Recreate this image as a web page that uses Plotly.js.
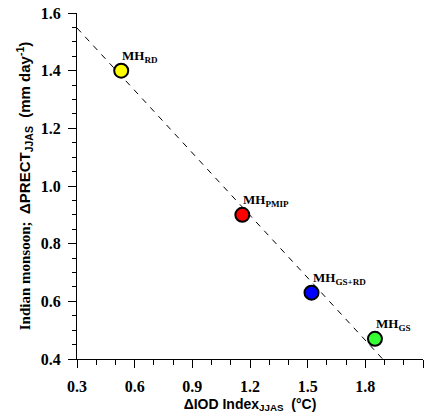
<!DOCTYPE html>
<html>
<head>
<meta charset="utf-8">
<script src="https://cdn.plot.ly/plotly-3.0.1.min.js"></script>
<style>html,body{margin:0;padding:0;background:#fff;}#chart{width:431px;height:419px;}</style>
</head>
<body>
<div id="chart"></div>
<script>
const names = ["MH<sub>RD</sub>", "MH<sub>PMIP</sub>", "MH<sub>GS+RD</sub>", "MH<sub>GS</sub>"];
const iodIndex = [0.53, 1.16, 1.52, 1.85];
const prect = [1.40, 0.90, 0.63, 0.47];
const colors = ["#ffff00", "#ff0000", "#0000ff", "#33ff33"];
const fitX = [0.3, 1.89];
const fitY = [1.548, 0.4];
const xTicks = [0.3, 0.6, 0.9, 1.2, 1.5, 1.8, 2.1];
const yTicks = [0.4, 0.6, 0.8, 1.0, 1.2, 1.4, 1.6];

const tickFont = {family: "Liberation Serif, Times New Roman, serif", size: 16, color: "#000", weight: "bold"};

const traces = [
  {x: fitX, y: fitY, mode: "lines", line: {color: "#000", width: 1, dash: "6px,6px"}, hoverinfo: "skip", showlegend: false, cliponaxis: false},
  {x: iodIndex, y: prect, mode: "markers", marker: {size: 14, color: colors, line: {color: "#000", width: 2}}, showlegend: false, cliponaxis: false}
];

const annotations = names.map((n, i) => ({
  x: iodIndex[i], y: prect[i], xref: "x", yref: "y", text: n, showarrow: false,
  xanchor: "left", yanchor: "middle", xshift: -1, yshift: 14,
  font: {family: "Liberation Serif, Times New Roman, serif", size: 13, color: "#000", weight: "bold"}
}));

const layout = {
  width: 431, height: 419,
  margin: {l: 77, r: 8, t: 13, b: 60},
  paper_bgcolor: "#fff", plot_bgcolor: "#fff",
  xaxis: {
    range: [0.3, 2.1], tickvals: xTicks, ticktext: xTicks.map(v => v.toFixed(1)),
    showgrid: false, zeroline: false, showline: true, linecolor: "#000", linewidth: 1,
    ticks: "outside", ticklen: 8, tickcolor: "#000", tickwidth: 1, ticklabelstandoff: 5,
    minor: {dtick: 0.1, tick0: 0.3, ticks: "outside", ticklen: 5, tickcolor: "#000", showgrid: false},
    tickfont: tickFont, fixedrange: true,
    title: {text: "ΔIOD Index<sub>JJAS</sub>  (°C)", font: {family: "Liberation Sans, Arial, sans-serif", size: 14, color: "#000", weight: "bold"}, standoff: 4}
  },
  yaxis: {
    range: [0.4, 1.6], tickvals: yTicks, ticktext: yTicks.map(v => v.toFixed(1)),
    showgrid: false, zeroline: false, showline: true, linecolor: "#000", linewidth: 1,
    ticks: "outside", ticklen: 8, tickcolor: "#000", tickwidth: 1, ticklabelstandoff: 4,
    minor: {dtick: 0.05, tick0: 0.4, ticks: "outside", ticklen: 4, tickcolor: "#000", showgrid: false},
    tickfont: tickFont, fixedrange: true,
    title: {text: "Indian monsoon;  <span style=\"font-family:Liberation Sans, Arial, sans-serif\">ΔPRECT<sub>JJAS</sub>  (mm day<sup>-1</sup>)</span>", font: {family: "Liberation Serif, Times New Roman, serif", size: 15, color: "#000", weight: "bold"}, standoff: 6}
  },
  annotations: annotations,
  showlegend: false
};

Plotly.newPlot("chart", traces, layout, {displayModeBar: false, staticPlot: true});
</script>
</body>
</html>
